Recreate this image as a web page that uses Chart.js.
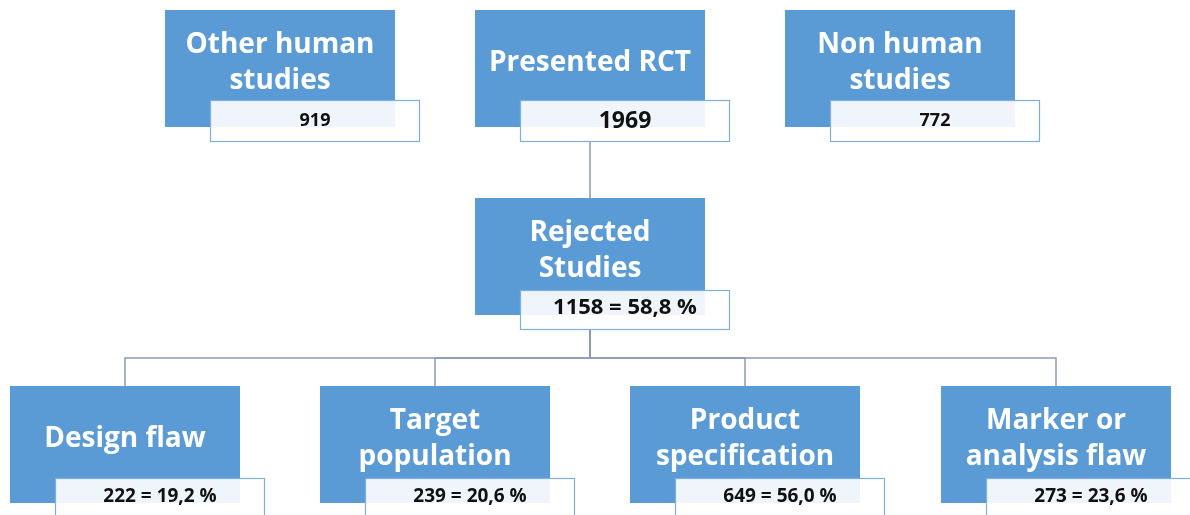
<!DOCTYPE html>
<html>
<head>
<meta charset="utf-8">
<script src="https://cdn.jsdelivr.net/npm/chart.js@4/dist/chart.umd.min.js"></script>
<style>
  body { margin: 0; background: #fff; }
</style>
</head>
<body>
<div style="width:1190px;height:515px">
  <canvas id="Chart-1" width="1190" height="515"></canvas>
</div>
<script>
// data
var nodeTitles = [
  ["Other human", "studies"],
  ["Presented RCT"],
  ["Non human", "studies"],
  ["Rejected", "Studies"],
  ["Design flaw"],
  ["Target", "population"],
  ["Product", "specification"],
  ["Marker or", "analysis flaw"]
];
var nodeCounts = [919, 1969, 772, 1158, 222, 239, 649, 273];
var nodeShares = [null, null, null, "58,8", "19,2", "20,6", "56,0", "23,6"];
var nodeParent = [-1, -1, -1, 1, 3, 3, 3, 3];

// layout (chart units, one unit per pixel)
var boxLeft = [165, 475, 785, 475, 10, 320, 630, 941];
var boxTop = [10, 10, 10, 198, 386, 386, 386, 386];
var boxW = 230, boxH = 117;
var valDx = 45, valW = 210;
var valDy = [90, 90, 90, 92, 92, 92, 92, 92];
var valH = [42, 42, 42, 40, 44, 44, 44, 44];
var valTextDy = [21, 21, 21, 18, 19, 19, 19, 19];
var valFont = [18, 23, 18, 22, 19, 19, 19, 19];
var titleFont = 28;
var busY = 358;

var boxColor = "#5B9BD5";
var lineColor = "#8A9BB4";
var fontFamily = "'Open Sans', Lato, sans-serif";

function valueLabel(i) {
  var s = String(nodeCounts[i]);
  if (nodeShares[i]) s += " = " + nodeShares[i] + " %";
  return s;
}

var treePlugin = {
  id: "tree",
  afterDraw: function(chart) {
    var ctx = chart.ctx;
    var xs = chart.scales.x, ys = chart.scales.y;
    function px(v) { return xs.getPixelForValue(v); }
    function py(v) { return ys.getPixelForValue(v); }

    ctx.save();
    // connectors
    ctx.strokeStyle = lineColor;
    ctx.lineWidth = 1.5;
    for (var i = 0; i < nodeParent.length; i++) {
      var p = nodeParent[i];
      if (p < 0) continue;
      var fromX = boxLeft[p] + boxW / 2;
      var fromY = boxTop[p] + valDy[p] + valH[p];
      var toX = boxLeft[i] + boxW / 2;
      var toY = boxTop[i];
      var siblings = nodeParent.filter(function(q) { return q === p; }).length;
      ctx.beginPath();
      ctx.moveTo(px(fromX), py(fromY));
      if (siblings > 1) {
        ctx.lineTo(px(fromX), py(busY));
        ctx.lineTo(px(toX), py(busY));
      }
      ctx.lineTo(px(toX), py(toY));
      ctx.stroke();
    }

    // boxes
    ctx.textAlign = "center";
    ctx.textBaseline = "middle";
    for (var j = 0; j < nodeTitles.length; j++) {
      var x0 = px(boxLeft[j]), y0 = py(boxTop[j]);
      var x1 = px(boxLeft[j] + boxW), y1 = py(boxTop[j] + boxH);
      ctx.fillStyle = boxColor;
      ctx.fillRect(x0, y0, x1 - x0, y1 - y0);

      // title
      ctx.fillStyle = "#ffffff";
      ctx.font = "bold " + titleFont + "px " + fontFamily;
      var lines = nodeTitles[j];
      var cy = boxTop[j] + boxH / 2 - 5;
      for (var k = 0; k < lines.length; k++) {
        var ly = cy + (k - (lines.length - 1) / 2) * 36;
        ctx.fillText(lines[k], px(boxLeft[j] + boxW / 2), py(ly));
      }

      // value box
      var vx0 = px(boxLeft[j] + valDx), vy0 = py(boxTop[j] + valDy[j]);
      var vx1 = px(boxLeft[j] + valDx + valW), vy1 = py(boxTop[j] + valDy[j] + valH[j]);
      ctx.fillStyle = "rgba(255,255,255,0.9)";
      ctx.fillRect(vx0, vy0, vx1 - vx0, vy1 - vy0);
      ctx.strokeStyle = "#7FAEDC";
      ctx.lineWidth = 1.2;
      ctx.strokeRect(vx0 + 0.5, vy0 + 0.5, vx1 - vx0 - 1, vy1 - vy0 - 1);

      ctx.fillStyle = "#111111";
      ctx.font = "bold " + valFont[j] + "px " + fontFamily;
      ctx.fillText(valueLabel(j), px(boxLeft[j] + valDx + valW / 2), py(boxTop[j] + valDy[j] + valTextDy[j]));
    }
    ctx.restore();
  }
};

new Chart("Chart-1", {
  type: "scatter",
  data: {
    datasets: [{
      data: boxLeft.map(function(x, i) { return { x: x + boxW / 2, y: boxTop[i] }; }),
      pointRadius: 0
    }]
  },
  options: {
    responsive: false,
    animation: false,
    layout: { padding: 0 },
    events: [],
    plugins: { legend: { display: false }, tooltip: { enabled: false } },
    scales: {
      x: { type: "linear", min: 0, max: 1190, display: false },
      y: { type: "linear", min: 0, max: 515, reverse: true, display: false }
    }
  },
  plugins: [treePlugin]
});
</script>
</body>
</html>
